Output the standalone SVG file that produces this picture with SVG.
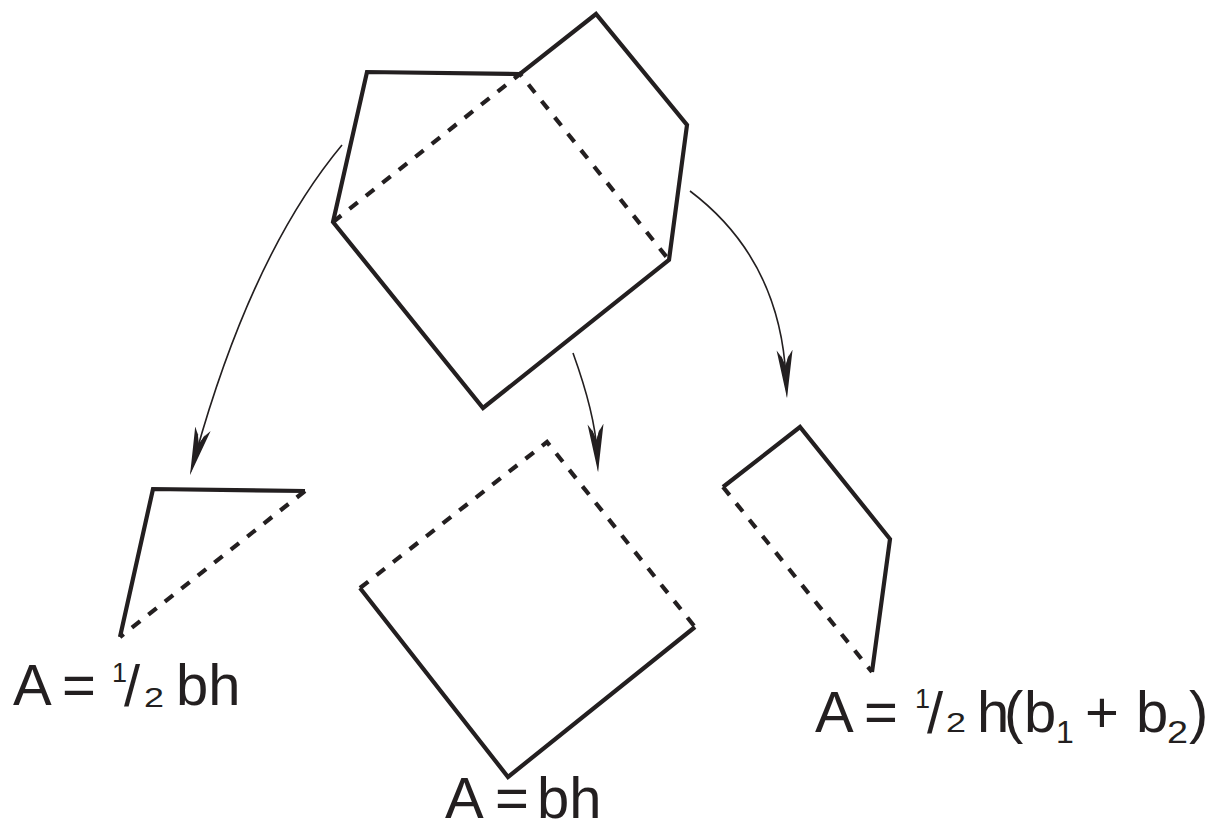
<svg xmlns="http://www.w3.org/2000/svg" width="1216" height="829" viewBox="0 0 1216 829">
  <style>
    .solid { fill: none; stroke: #231f20; stroke-width: 4.2; stroke-linejoin: miter; stroke-linecap: butt; }
    .dash { fill: none; stroke: #231f20; stroke-width: 4.2; stroke-dasharray: 10.5 10.5; stroke-linecap: butt; }
    .conn { fill: none; stroke: #231f20; stroke-width: 1.6; }
    .lbl { font-family: "Liberation Sans", Arial, Helvetica, sans-serif; fill: #231f20; font-size: 58px; }
    .fr { font-family: "Liberation Sans", Arial, Helvetica, sans-serif; fill: #231f20; font-size: 27px; }
    .sb { font-family: "Liberation Sans", Arial, Helvetica, sans-serif; fill: #231f20; font-size: 32px; }
  </style>
  <defs>
    <marker id="arr" markerUnits="userSpaceOnUse" markerWidth="52" markerHeight="20" viewBox="0 -10 52 20" refX="28" refY="0" orient="auto">
      <path d="M48,0 L0,-8 L8,-2.6 L4,-4.2 L17,0 L4,4.2 L8,2.6 L0,8 Z" fill="#231f20"/>
      <path d="M48,0 L6,-3.6 L16,0 L6,3.6 Z" fill="#231f20"/>
    </marker>
  </defs>

  <g id="pentagon">
    <path class="solid" d="M333,222 L367,72 L520,74 L596,14 L687,125 L669,260 L483,408 Z"/>
    <path class="dash" d="M333,222 L520,74 L669,260"/>
  </g>

  <g id="triangle">
    <path class="solid" d="M120,637 L153,489 L305,491"/>
    <path class="dash" d="M305,491 L120,637"/>
  </g>

  <g id="parallelogram">
    <path class="dash" d="M360,588 L547,442 L695,627"/>
    <path class="solid" d="M360,588 L508,777 L695,627"/>
  </g>

  <g id="trapezoid">
    <path class="solid" d="M723,487 L800,427 L890,539 L872,672"/>
    <path class="dash" d="M723,487 L872,672"/>
  </g>

  <g id="connectors">
    <path class="conn" d="M342,145 Q252,253 195.4,455.7" marker-end="url(#arr)"/>
    <path class="conn" d="M573,353 Q595,414 597,452" marker-end="url(#arr)"/>
    <path class="conn" d="M690,191 Q780,259 786,378" marker-end="url(#arr)"/>
  </g>

  <g id="label-triangle">
    <text class="lbl"><tspan x="13" y="705">A</tspan><tspan x="62" y="705">=</tspan><tspan x="124" y="706">/</tspan><tspan x="176" y="705">bh</tspan></text>
    <text class="fr" x="112" y="682">1</text>
    <text class="fr" x="144" y="707" textLength="20" lengthAdjust="spacingAndGlyphs">2</text>
  </g>

  <g id="label-parallelogram">
    <text class="lbl"><tspan x="445" y="818">A</tspan><tspan x="495" y="818">=</tspan><tspan x="537" y="818">bh</tspan></text>
  </g>

  <g id="label-trapezoid">
    <text class="lbl"><tspan x="815" y="732">A</tspan><tspan x="864" y="732">=</tspan><tspan x="927" y="733">/</tspan><tspan x="977" y="732">h</tspan><tspan x="1004" y="732">(</tspan><tspan x="1024" y="732">b</tspan><tspan x="1085" y="732">+</tspan><tspan x="1136" y="732">b</tspan><tspan x="1189" y="732">)</tspan></text>
    <text class="fr" x="915" y="708">1</text>
    <text class="fr" x="946" y="732" textLength="20" lengthAdjust="spacingAndGlyphs">2</text>
    <text class="sb" x="1056" y="743">1</text>
    <text class="sb" x="1167" y="743" textLength="21" lengthAdjust="spacingAndGlyphs">2</text>
  </g>
</svg>
